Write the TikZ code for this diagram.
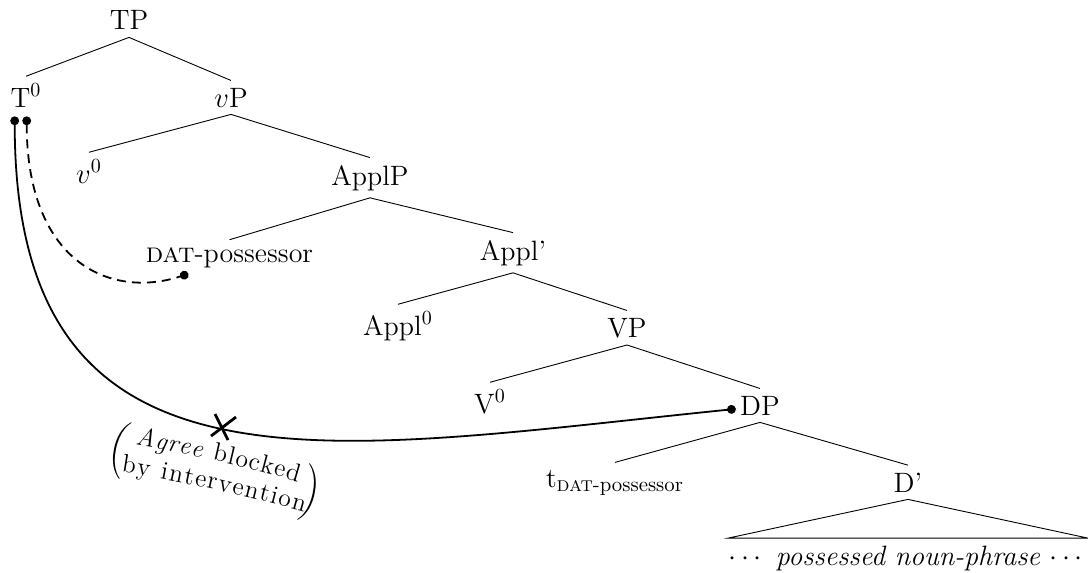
\documentclass[tikz,border=0pt]{standalone}
\usepackage{amsmath}
\usetikzlibrary{calc,arrows.meta,decorations.text}
\tikzset{
 cat/.style = {anchor=base, inner sep=3.5pt, font=\fontsize{14}{17}\selectfont},
 branch/.style = {line width=0.45pt},
 agree/.style = {line width=0.9pt, {Circle[length=4.4pt]}-{Circle[length=4.4pt]}},
 blockmark/.style = {line width=1.4pt}
}
\newcommand{\notefont}{\fontsize{12.8}{15.4}\selectfont}
\newcommand{\branch}[2]{
    \draw[branch] (#1.south) -- (#2.north);
}

\begin{document}
\begin{tikzpicture}[x=0.5pt,y=-0.5pt]
    \useasboundingbox (0,0) rectangle (1088,573);
    % categories
    \node[cat] (TP) at (129,30) {TP};
    \node[cat] (T0) at (26,107) {T$^0$};
    \node[cat] (vP) at (231,107) {$v$P};
    \node[cat] (v0) at (89,183) {$v^0$};
    \node[cat] (ApplP) at (370,185) {ApplP};
    \node[cat] (DAT) at (229.5,262) {\textsc{dat}-possessor};
    \node[cat] (Applbar) at (513,260) {Appl'};
    \node[cat] (Appl0) at (398,335) {Appl$^0$};
    \node[cat] (VP) at (627,337) {VP};
    \node[cat] (V0) at (490,413) {V$^0$};
    \node[cat] (DP) at (760,415) {DP};
    \node[cat] (tDAT) at (615,487) {t\textsubscript{\fontsize{10.4}{12}\selectfont\textsc{dat}-possessor}};
    \node[cat] (Dbar) at (908,492) {D'};
    \node[cat, inner xsep=0pt] (NP) at (908,565) {$\cdots$ \textit{possessed noun-phrase} $\cdots$};

    \branch{TP}{T0}
    \branch{TP}{vP}
    \branch{vP}{v0}
    \branch{vP}{ApplP}
    \branch{ApplP}{DAT}
    \branch{ApplP}{Applbar}
    \branch{Applbar}{Appl0}
    \branch{Applbar}{VP}
    \branch{VP}{V0}
    \branch{VP}{DP}
    \branch{DP}{tDAT}
    \branch{DP}{Dbar}
    \draw[branch] (Dbar.south) -- (NP.north west) -- (NP.north east) -- cycle;

    % agree relations
    \coordinate (probeA) at ($(T0.south west)+(11.5,2)$);
    \coordinate (probeB) at ($(T0.south west)+(23.5,2)$);
    \coordinate (goalDP) at ($(DP.west)+(3,3.5)$);
    \coordinate (goalDAT) at ($(DAT.south west)+(50,-1)$);
    \draw[agree] (probeA) .. controls +(0,400) and +(-406,41) .. coordinate[pos=0.5] (block) (goalDP);
    \draw[agree, dash pattern=on 4.5pt off 3pt] (probeB) .. controls +(0,144) and +(-80,26) .. (goalDAT);
    \draw[blockmark] ($(block)+(-8,-14)$) -- ($(block)+(5,12)$);
    \draw[blockmark] ($(block)+(13,-11)$) -- ($(block)+(-12,8)$);

    % note under the blocked relation
    \path[decorate, decoration={text along path, text align={fit to path},
        text={|\notefont\itshape|Agree |\notefont\upshape|blocked}}]
        (135,445) .. controls (200,456) and (250,468) .. (298,482);
    \path[decorate, decoration={text along path, text align={fit to path},
        text={|\notefont|by intervention}}]
        (121,472) .. controls (190,483) and (250,497) .. (304,512);
    \node[rotate=-12, font=\notefont] (lpar) at (118,450) {$\bigg($};
    \node[rotate=-12, font=\notefont] (rpar) at (311,494) {$\bigg)$};
\end{tikzpicture}
\end{document}
